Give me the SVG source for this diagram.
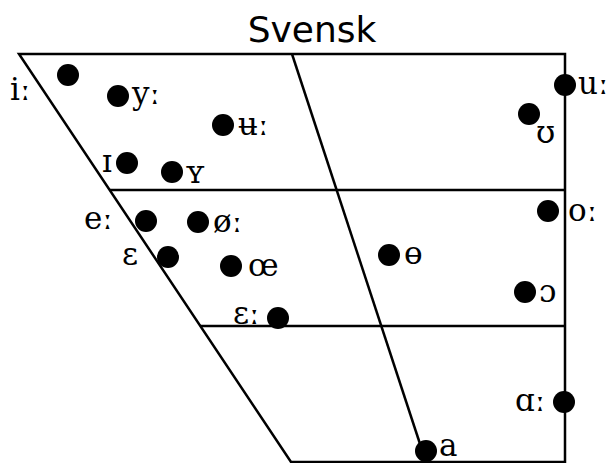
<svg xmlns="http://www.w3.org/2000/svg" width="616" height="463" viewBox="0 0 616 463">
<style>
.ln{stroke:#000;stroke-width:2.5;fill:none}
.d{fill:#000}
.t{font-family:"DejaVu Serif",serif;font-size:31px;fill:#000}
.title{font-family:"DejaVu Sans",sans-serif;font-size:36px;fill:#000}
</style>
<rect width="616" height="463" fill="#fff"/>
<text class="title" x="312" y="42" text-anchor="middle">Svensk</text>
<g id="connectors">
<path class="ln" d="M19,54 H565 V462 H291 Z"/>
<line class="ln" x1="110" y1="190" x2="565" y2="190"/>
<line class="ln" x1="200" y1="326" x2="565" y2="326"/>
<line class="ln" x1="292" y1="54" x2="422" y2="450"/>
</g>
<g id="i"><circle class="d" cx="68" cy="75" r="11"/><text class="t" x="10" y="100">iː</text></g>
<g id="y"><circle class="d" cx="118" cy="96" r="11"/><text class="t" x="132" y="104">yː</text></g>
<g id="u-bar"><circle class="d" cx="223" cy="125" r="11"/><text class="t" x="238" y="135">ʉː</text></g>
<g id="I"><circle class="d" cx="127" cy="163" r="11"/><text class="t" x="102" y="172">ɪ</text></g>
<g id="Y"><circle class="d" cx="172" cy="172" r="11"/><text class="t" x="185" y="183">ʏ</text></g>
<g id="u"><circle class="d" cx="565" cy="85" r="11"/><text class="t" x="578" y="94">uː</text></g>
<g id="U"><circle class="d" cx="529" cy="114" r="11"/><text class="t" x="536" y="143">ʊ</text></g>
<g id="e"><circle class="d" cx="146" cy="221" r="11"/><text class="t" x="84" y="229">eː</text></g>
<g id="o-slash"><circle class="d" cx="198" cy="222" r="11"/><text class="t" x="213" y="232">øː</text></g>
<g id="E"><circle class="d" cx="168" cy="257" r="11"/><text class="t" x="122" y="265">ɛ</text></g>
<g id="oe"><circle class="d" cx="231" cy="266" r="11"/><text class="t" x="248" y="276">œ</text></g>
<g id="E-long"><circle class="d" cx="278" cy="318" r="11"/><text class="t" x="233" y="324">ɛː</text></g>
<g id="o"><circle class="d" cx="548" cy="211" r="11"/><text class="t" x="568" y="221">oː</text></g>
<g id="theta"><circle class="d" cx="389" cy="255" r="11"/><text class="t" x="404" y="264">ɵ</text></g>
<g id="open-o"><circle class="d" cx="525" cy="292" r="11"/><text class="t" x="539" y="302">ɔ</text></g>
<g id="alpha"><circle class="d" cx="564" cy="402" r="11"/><text class="t" x="515" y="411">ɑː</text></g>
<g id="a"><circle class="d" cx="426" cy="451" r="11"/><text class="t" x="439" y="456">a</text></g>
</svg>
